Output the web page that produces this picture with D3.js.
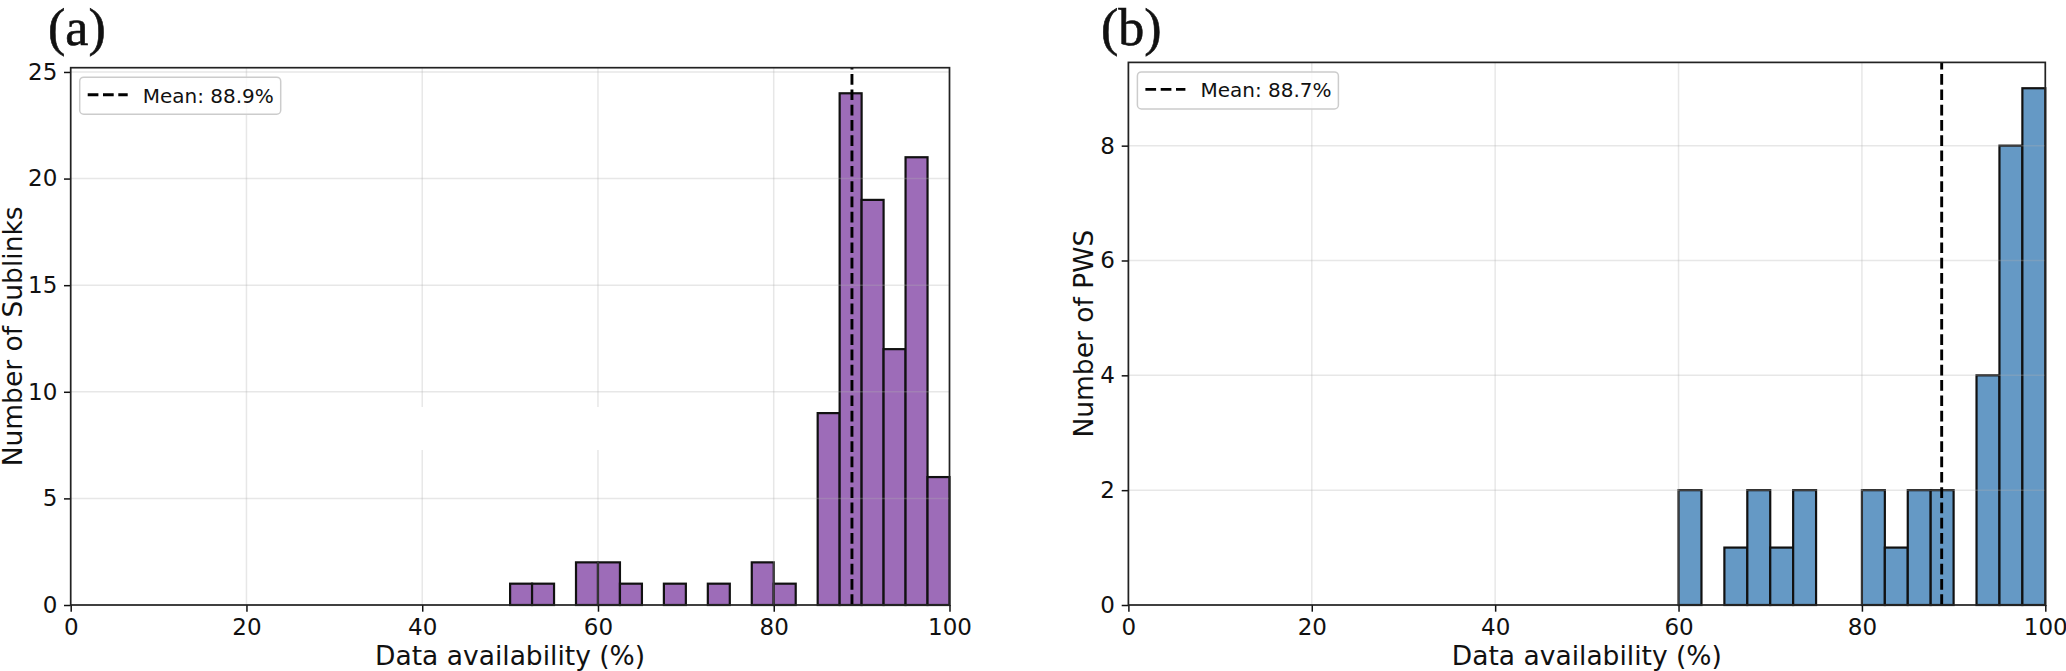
<!DOCTYPE html>
<html>
<head>
<meta charset="utf-8">
<script src="https://cdn.jsdelivr.net/npm/d3@7"></script>
<style>
  body { margin: 0; background: #fff; }
  svg { display: block; font-family: "DejaVu Sans", sans-serif; }
</style>
</head>
<body>
<svg id="chart" width="2066" height="671"></svg>
<script>
// histogram bins (lower edges, %) and counts
var binWidth = 2.5;
var binStartA = [50, 52.5, 55, 57.5, 60, 62.5, 65, 67.5, 70, 72.5, 75, 77.5, 80, 82.5, 85, 87.5, 90, 92.5, 95, 97.5];
var countsA   = [1, 1, 0, 2, 2, 1, 0, 1, 0, 1, 0, 2, 1, 0, 9, 24, 19, 12, 21, 6];
var binStartB = [60, 62.5, 65, 67.5, 70, 72.5, 75, 77.5, 80, 82.5, 85, 87.5, 90, 92.5, 95, 97.5];
var countsB   = [2, 0, 1, 2, 1, 2, 0, 0, 2, 1, 2, 2, 0, 4, 8, 9];
var meanA = 88.9, meanB = 88.7;
var xTicks  = [0, 20, 40, 60, 80, 100];
var yTicksA = [0, 5, 10, 15, 20, 25];
var yTicksB = [0, 2, 4, 6, 8];
var panelLabels = ["(a)", "(b)"];
var yLabels = ["Number of Sublinks", "Number of PWS"];
var xLabel = "Data availability (%)";

var svg = d3.select("#chart");

function drawPanel(o){
	var x = d3.scaleLinear().domain([0, 100]).range([o.left, o.right]);
	var y = d3.scaleLinear().domain([0, o.ymax]).range([o.bottom, o.top]);
	var g = svg.append("g");

	var bins = o.starts.map(function(s, i){ return {x0: s, x1: s + binWidth, n: o.counts[i]}; })
		.filter(function(d){ return d.n > 0; });

	g.selectAll("rect.bar").data(bins).enter().append("rect")
		.attr("class", "bar")
		.attr("x", function(d){ return x(d.x0); })
		.attr("width", function(d){ return x(d.x1) - x(d.x0); })
		.attr("y", function(d){ return y(d.n); })
		.attr("height", function(d){ return y(0) - y(d.n); })
		.attr("fill", o.color)
		.attr("stroke", "#111")
		.attr("stroke-width", 2.2);

	// grid (panel a has a blank patch hiding part of it)
	var grid = g.append("g").attr("stroke", "#b0b0b0").attr("stroke-opacity", 0.3).attr("stroke-width", 1.5);
	xTicks.forEach(function(d){
		var xp = x(d);
		if(o.blank && xp > o.blank[0] && xp < o.blank[0] + o.blank[2]){
			grid.append("line").attr("x1", xp).attr("x2", xp).attr("y1", o.top).attr("y2", o.blank[1]);
			grid.append("line").attr("x1", xp).attr("x2", xp).attr("y1", o.blank[1] + o.blank[3]).attr("y2", o.bottom);
		} else {
			grid.append("line").attr("x1", xp).attr("x2", xp).attr("y1", o.top).attr("y2", o.bottom);
		}
	});
	grid.selectAll("line.gy").data(o.yTicks).enter().append("line")
		.attr("class", "gy")
		.attr("x1", o.left).attr("x2", o.right).attr("y1", y).attr("y2", y);

	// mean line
	g.append("line")
		.attr("x1", x(o.mean)).attr("x2", x(o.mean))
		.attr("y1", o.bottom).attr("y2", o.top)
		.attr("stroke", "#000").attr("stroke-width", 2.9)
		.attr("stroke-dasharray", "10.7,4.6");

	// axes
	var ax = g.append("g").attr("transform", "translate(0," + o.bottom + ")")
		.call(d3.axisBottom(x).tickValues(xTicks).tickFormat(d3.format("d")).tickSize(6.7).tickSizeOuter(0).tickPadding(6.7));
	var ay = g.append("g").attr("transform", "translate(" + o.left + ",0)")
		.call(d3.axisLeft(y).tickValues(o.yTicks).tickFormat(d3.format("d")).tickSize(6.7).tickSizeOuter(0).tickPadding(6.7));
	[ax, ay].forEach(function(a){
		a.select(".domain").remove();
		a.selectAll(".tick line").attr("stroke", "#111").attr("stroke-width", 1.5);
		a.selectAll(".tick text").attr("fill", "#111").style("font-size", "23px")
			.style("font-family", "DejaVu Sans");
	});

	g.append("rect")
		.attr("x", o.left).attr("y", o.top)
		.attr("width", o.right - o.left).attr("height", o.bottom - o.top)
		.attr("fill", "none").attr("stroke", "#222").attr("stroke-width", 1.7);

	// legend
	var lx = o.left + 9, ly = o.top + 9.5;
	var lg = g.append("g");
	lg.append("rect").attr("x", lx).attr("y", ly).attr("width", 201).attr("height", 37).attr("rx", 4)
		.attr("fill", "#fff").attr("fill-opacity", 0.8).attr("stroke", "#cccccc").attr("stroke-width", 1.5);
	lg.append("line").attr("x1", lx + 8).attr("x2", lx + 48).attr("y1", ly + 17.5).attr("y2", ly + 17.5)
		.attr("stroke", "#000").attr("stroke-width", 2.9).attr("stroke-dasharray", "10.7,4.6");
	lg.append("text").attr("x", lx + 63).attr("y", ly + 25.3)
		.style("font-size", "20px").attr("fill", "#111")
		.text("Mean: " + o.mean.toFixed(1) + "%");

	// labels
	g.append("text").attr("x", (o.left + o.right) / 2).attr("y", 665)
		.attr("text-anchor", "middle").style("font-size", "26.5px").attr("fill", "#111")
		.text(xLabel);
	g.append("text")
		.attr("transform", "translate(" + o.ylabX + "," + ((o.top + o.bottom) / 2) + ") rotate(-90)")
		.attr("text-anchor", "middle").style("font-size", "26.5px").attr("fill", "#111")
		.text(o.ylabel);
	g.append("text").attr("x", o.tagX).attr("y", 45)
		.style("font-family", "'Liberation Serif', serif").style("font-size", "52px")
		.attr("fill", "#111").attr("stroke", "#111").attr("stroke-width", 0.6)
		.text(o.tag);
}

drawPanel({
	left: 70.7, right: 949.5, top: 67.7, bottom: 605, ymax: 25.2,
	starts: binStartA, counts: countsA, mean: meanA, yTicks: yTicksA,
	color: "#9d6cb8", ylabel: yLabels[0], ylabX: 21.5, tag: panelLabels[0], tagX: 48,
	blank: [300, 407, 400, 43]
});
drawPanel({
	left: 1128.4, right: 2045.3, top: 62.4, bottom: 605, ymax: 9.45,
	starts: binStartB, counts: countsB, mean: meanB, yTicks: yTicksB,
	color: "#6599c5", ylabel: yLabels[1], ylabX: 1092.5, tag: panelLabels[1], tagX: 1101
});
</script>
</body>
</html>
